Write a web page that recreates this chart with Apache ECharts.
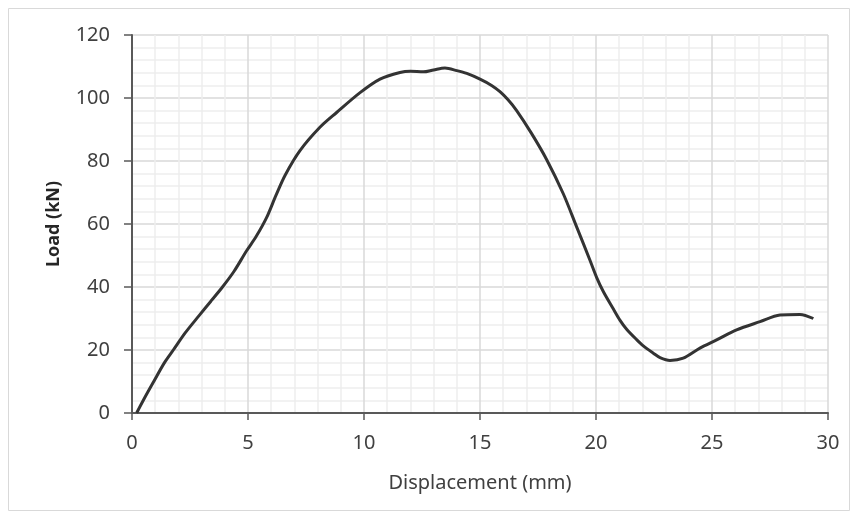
<!DOCTYPE html>
<html>
<head>
<meta charset="utf-8">
<script src="https://cdn.jsdelivr.net/npm/echarts@6/dist/echarts.min.js"></script>
<style>
  html, body { margin: 0; padding: 0; background: #fff; }
  #chart { width: 854px; height: 519px; }
</style>
</head>
<body>
<div id="chart"></div>
<script>
// displacement (mm)
const displacement = [
  0.2, 0.5, 0.9, 1.4, 1.78, 2.3, 2.9, 3.4, 3.9, 4.4, 4.94, 5.35, 5.8, 6.2, 6.6,
  7.24, 8.1, 8.82, 9.83, 10.69, 11.55, 12.0, 12.56, 13.0, 13.49, 14.0, 14.43, 15.0,
  15.5, 15.86, 16.2, 16.58, 17.2, 17.87, 18.59, 19.17, 19.74, 20.03, 20.32, 20.75, 21.03,
  21.32, 21.75, 22.04, 22.47, 22.76, 23.19, 23.76, 24.48, 25.2, 26.06,
  27.07, 27.93, 28.79, 29.37
];
// load (kN)
const load = [
  0, 4.2, 9.5, 16, 20, 25.5, 31, 35.5, 40, 45, 51.5, 56, 62, 69, 75.5,
  83.3, 90.7, 95.4, 101.7, 106, 108.1, 108.5, 108.3, 108.9, 109.5, 108.7, 107.8, 106,
  104, 102, 99.5, 96, 89, 80.5, 69.6, 59, 48.5, 43, 38.5, 33, 29.5,
  26.6, 23.3, 21.3, 19, 17.6, 16.7, 17.4, 20.6, 23.2, 26.4,
  29.0, 31.1, 31.3, 30.0
];
const xTicks = { min: 0, max: 30, interval: 5 };
const yTicks = { min: 0, max: 120, interval: 20 };

const chart = echarts.init(document.getElementById('chart'));

const axisFont = { fontFamily: 'Noto Sans', fontSize: 20, color: '#404040' };

chart.setOption({
  animation: false,
  graphic: [{
    type: 'rect',
    shape: { x: 8.5, y: 8.5, width: 841, height: 502 },
    style: { fill: 'none', stroke: '#d9d9d9', lineWidth: 1 }
  }],
  grid: { left: 132, top: 35, right: 26, bottom: 106 },
  xAxis: {
    type: 'value',
    min: xTicks.min, max: xTicks.max, interval: xTicks.interval,
    name: 'Displacement (mm)',
    nameLocation: 'middle',
    nameGap: 60,
    nameTextStyle: { fontFamily: 'Noto Sans', fontSize: 20, color: '#404040' },
    axisLine: { lineStyle: { color: '#595959', width: 2 } },
    axisTick: { show: true, length: 7, lineStyle: { color: '#595959', width: 1.5 } },
    axisLabel: Object.assign({ margin: 20 }, axisFont),
    splitLine: { lineStyle: { color: '#d9d9d9', width: 1.5 } },
    minorTick: { show: false, splitNumber: 5 },
    minorSplitLine: { show: true, lineStyle: { color: '#eeeeee', width: 1.5 } }
  },
  yAxis: {
    type: 'value',
    min: yTicks.min, max: yTicks.max, interval: yTicks.interval,
    name: 'Load (kN)',
    nameLocation: 'middle',
    nameGap: 69,
    nameRotate: 90,
    nameTextStyle: { fontFamily: 'Noto Sans', fontSize: 18, fontWeight: 'bold', color: '#262626' },
    axisLine: { show: true, lineStyle: { color: '#595959', width: 2 } },
    axisTick: { show: true, length: 8, lineStyle: { color: '#595959', width: 1.5 } },
    axisLabel: Object.assign({ margin: 22 }, axisFont),
    splitLine: { lineStyle: { color: '#d9d9d9', width: 1.5 } },
    minorTick: { show: false, splitNumber: 5 },
    minorSplitLine: { show: true, lineStyle: { color: '#eeeeee', width: 1.5 } }
  },
  series: [{
    type: 'line',
    data: displacement.map((d, i) => [d, load[i]]),
    smooth: 0.3,
    showSymbol: false,
    lineStyle: { color: '#333333', width: 3 }
  }]
});
</script>
</body>
</html>
